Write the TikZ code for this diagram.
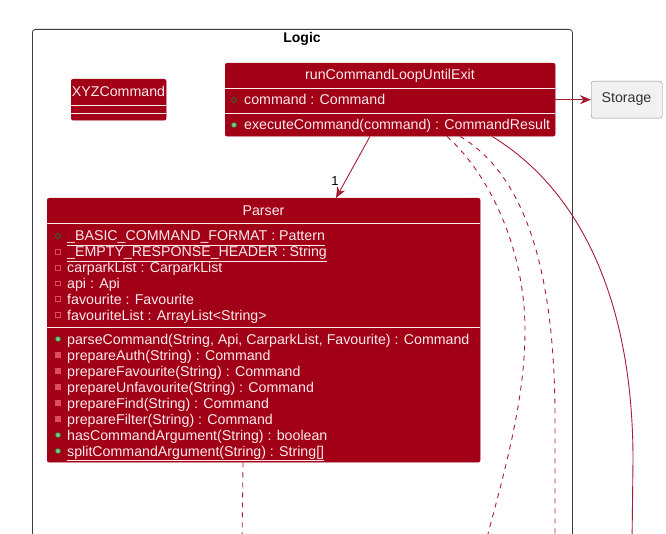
\documentclass[tikz,border=0pt]{standalone}
\usepackage{fontspec}
\setmainfont{Liberation Sans}
\usetikzlibrary{arrows.meta,calc}
\definecolor{boxred}{RGB}{161,0,22}
\definecolor{boxtxt}{RGB}{252,234,237}
\definecolor{lnred}{RGB}{168,28,50}
\definecolor{frame}{RGB}{60,60,60}
\definecolor{stobg}{RGB}{241,241,241}
\definecolor{stobd}{RGB}{140,140,140}
\definecolor{pubring}{RGB}{45,105,55}
\definecolor{pubfill}{RGB}{125,195,125}
\definecolor{privcol}{RGB}{222,78,92}
\newcommand{\umlrow}[3]{\node[rowtxt] at (#1,{-(#2)-5}) {#3};}
\newcommand{\pubF}[2]{\draw[pubring,line width=0.9pt] (#1,-#2) circle (2.4);}
\newcommand{\pubM}[2]{\filldraw[fill=pubfill,draw=pubring,line width=0.6pt] (#1,-#2) circle (2.6);}
\newcommand{\privF}[2]{\draw[privcol,line width=0.8pt] ({#1-2.4},{-#2-2.4}) rectangle ({#1+2.4},{-#2+2.4});}
\newcommand{\privM}[2]{\fill[privcol] ({#1-2.8},{-#2-2.8}) rectangle ({#1+2.8},{-#2+2.8});}
\tikzset{
  x=1pt,y=1pt,
  every node/.style={font=\fontsize{14.2}{16}\selectfont},
  classbox/.style={draw=boxred,fill=boxred,rounded corners=2pt,anchor=north west,inner sep=0pt},
  sepline/.style={draw=boxtxt,line width=0.8pt},
  rowtxt/.style={text=boxtxt,anchor=base west,inner sep=0pt},
  headtxt/.style={text=boxtxt,inner sep=0pt},
  conn/.style={draw=lnred,line width=0.9pt},
  dconn/.style={draw=lnred,line width=0.9pt,dash pattern=on 5pt off 5pt},
  arr/.style={-{Stealth[length=11pt,width=9pt,inset=3.5pt]}},
}
\begin{document}
\begin{tikzpicture}
\useasboundingbox (0,0) rectangle (666,-534);
\clip (0,0) rectangle (666,-534);
% frame
\node[draw=frame,line width=0.8pt,rounded corners=3pt,anchor=north west,minimum width=540pt,minimum height=560pt,inner sep=0pt] (logic) at (32,-29) {};
\node[font=\fontsize{14}{16}\selectfont\bfseries,inner sep=0pt] (logictitle) at (302,-39) {Logic};
% XYZCommand
\node[classbox,minimum width=95pt,minimum height=41pt] (xyz) at (71,-79) {};
\node[headtxt] (xyzt) at (118.5,-91) {XYZCommand};
\draw[sepline] ([yshift=-26pt]xyz.north west) -- ([yshift=-26pt]xyz.north east);
\draw[sepline] ([yshift=-34pt]xyz.north west) -- ([yshift=-34pt]xyz.north east);
% runCommandLoopUntilExit
\node[classbox,minimum width=330pt,minimum height=73pt] (run) at (225,-63) {};
\node[headtxt] (runt) at (390,-76) {runCommandLoopUntilExit};
\draw[sepline] ([yshift=-25pt]run.north west) -- ([yshift=-25pt]run.north east);
\draw[sepline] ([yshift=-50pt]run.north west) -- ([yshift=-50pt]run.north east);
\pubF{234}{100}
\umlrow{244}{100}{command : Command}
\pubM{234}{125}
\umlrow{244}{125}{executeCommand(command) : CommandResult}
% Storage
\node[draw=stobd,fill=stobg,rounded corners=2.5pt,anchor=north west,minimum width=71pt,minimum height=37pt,inner sep=0pt] (storage) at (591,-81) {};
\node[text=black!80,inner sep=0pt] (storaget) at (626.5,-99.5) {Storage};
% Parser
\node[classbox,minimum width=433pt,minimum height=264pt] (parser) at (47,-198) {};
\node[headtxt] (parsert) at (263.5,-211) {Parser};
\draw[sepline] ([yshift=-25pt]parser.north west) -- ([yshift=-25pt]parser.north east);
\draw[sepline] ([yshift=-129pt]parser.north west) -- ([yshift=-129pt]parser.north east);
\pubF{58}{236}
\umlrow{67}{236}{\underline{\_BASIC\_COMMAND\_FORMAT : Pattern}}
\privF{58}{251.8}
\umlrow{67}{251.8}{\underline{\_EMPTY\_RESPONSE\_HEADER : String}}
\privF{58}{267.6}
\umlrow{67}{267.6}{carparkList : CarparkList}
\privF{58}{283.4}
\umlrow{67}{283.4}{api : Api}
\privF{58}{299.2}
\umlrow{67}{299.2}{favourite : Favourite}
\privF{58}{315}
\umlrow{67}{315}{favouriteList : ArrayList<String>}
\pubM{58}{339}
\umlrow{67}{339}{parseCommand(String, Api, CarparkList, Favourite) : Command}
\privM{58}{355}
\umlrow{67}{355}{prepareAuth(String) : Command}
\privM{58}{371}
\umlrow{67}{371}{prepareFavourite(String) : Command}
\privM{58}{387}
\umlrow{67}{387}{prepareUnfavourite(String) : Command}
\privM{58}{403}
\umlrow{67}{403}{prepareFind(String) : Command}
\privM{58}{419}
\umlrow{67}{419}{prepareFilter(String) : Command}
\pubM{58}{435}
\umlrow{67}{435}{hasCommandArgument(String) : boolean}
\pubM{58}{451}
\umlrow{67}{451}{\underline{splitCommandArgument(String) : String[]}}
% off-picture ends
\coordinate (endA) at (242,-545);
\coordinate (endB) at (485,-545);
\coordinate (endC) at (555,-545);
\coordinate (endD) at (632,-545);
% connectors
\draw[conn,arr] (run.east) -- (storage.west);
\draw[conn,arr] ([xshift=145pt]run.south west) -- ([xshift=289pt]parser.north west);
\node[inner sep=0pt,font=\fontsize{13}{15}\selectfont] (mult) at (335,-181) {1};
\draw[dconn] ([xshift=196pt]parser.south west) -- (endA);
\draw[dconn] ([xshift=222pt]run.south west) .. controls (490,-175) and (525,-250) .. (525,-330)
  .. controls (525,-400) and (505,-470) .. (endB);
\draw[dconn] ([xshift=235pt]run.south west) .. controls (525,-175) and (555,-270) .. (555,-420) -- (endC);
\draw[conn] ([xshift=267pt]run.south west) .. controls (580,-190) and (633,-300) .. (633,-460) -- (endD);
\end{tikzpicture}
\end{document}
